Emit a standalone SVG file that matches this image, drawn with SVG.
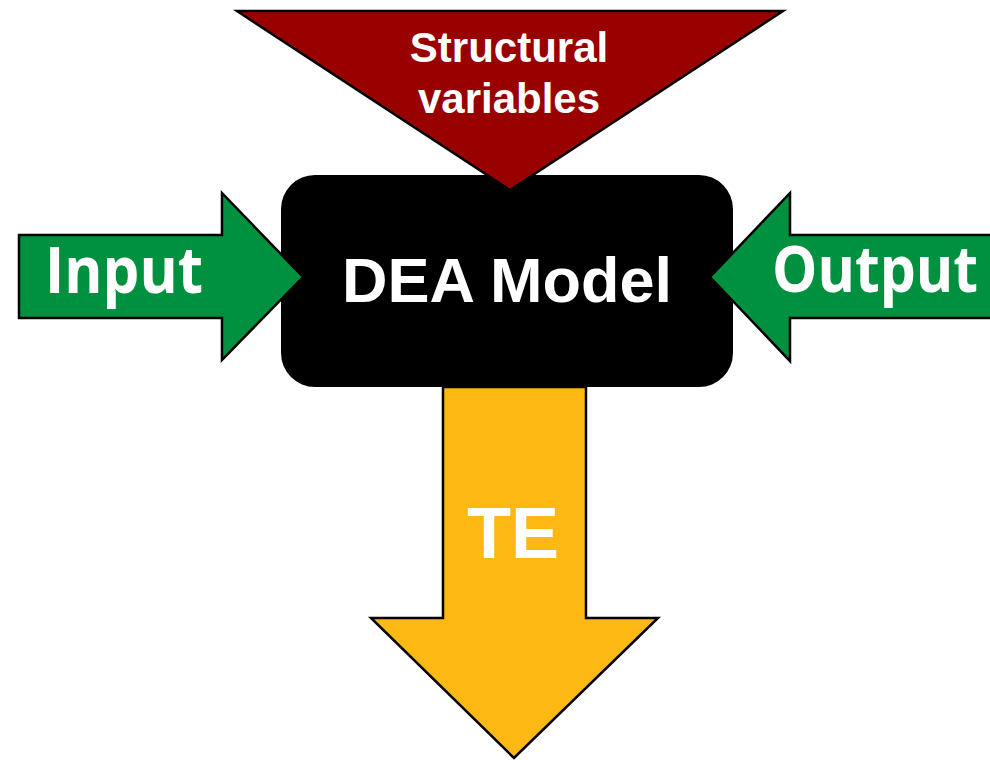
<svg xmlns="http://www.w3.org/2000/svg" width="990" height="760" viewBox="0 0 990 760">
<style>
.arrow{stroke:#000;stroke-width:2.5;stroke-linejoin:miter}
.green{fill:#009140}
.lbl{fill:#fff;font-family:"Liberation Sans",Arial,sans-serif;font-weight:bold;text-anchor:middle}
.io{fill:#fff;font-family:"Open Sans","Noto Sans",sans-serif;font-weight:bold;text-anchor:middle}
</style>
<g id="dea-model">
<rect x="281" y="175" width="452" height="212" rx="34" fill="#000"/>
<text class="lbl" x="507" y="302" font-size="63">DEA Model</text>
</g>
<g id="connectors">
<g id="input">
<polygon class="arrow green" points="19,235 222,235 222,193 303,277 222,360 222,318 19,318"/>
<text class="io" x="124" y="293" font-size="64" textLength="158" lengthAdjust="spacingAndGlyphs">Input</text>
</g>
<g id="output">
<polygon class="arrow green" points="992,235 790,235 790,193 710,277 790,361 790,318 992,318"/>
<text class="io" x="875" y="292" font-size="64" textLength="206" lengthAdjust="spacingAndGlyphs">Output</text>
</g>
<g id="structural">
<polygon class="arrow" fill="#990000" points="237,11 783,11 510,190"/>
<text class="lbl" x="509" y="62" font-size="42">Structural</text>
<text class="lbl" x="509" y="113" font-size="42">variables</text>
</g>
<g id="te">
<polygon class="arrow" fill="#FDB813" points="443,387 586,387 586,618 658,618 514,758 371,618 443,618"/>
<text class="lbl" x="513" y="558" font-size="72">TE</text>
</g>
</g>
</svg>
